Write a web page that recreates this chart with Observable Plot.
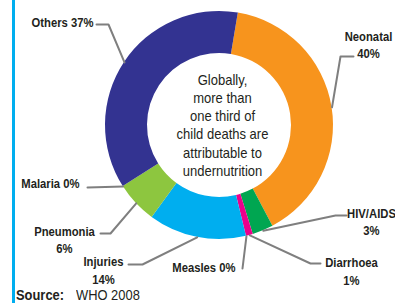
<!DOCTYPE html>
<html><head><meta charset="utf-8">
<script src="https://cdn.jsdelivr.net/npm/d3@7"></script>
<script src="https://cdn.jsdelivr.net/npm/@observablehq/plot@0.6"></script>
<style>
body{margin:0;background:#fff;}
#wrap{position:relative;width:395px;height:303px;overflow:hidden;}
#bar{position:absolute;left:12px;top:0;width:3px;height:303px;background:#00AEEF;}
#chart{position:absolute;left:0;top:0;}
.src{position:absolute;top:287px;white-space:nowrap;color:#231F20;transform:scaleX(0.86);transform-origin:0 0;
  font:15px/16px "Liberation Sans","Arimo",Roboto,sans-serif;}
#srcLabel{left:16px;font-weight:bold;}
#srcText{left:76px;}
</style></head>
<body><div id="wrap"><div id="chart"></div><div id="bar"></div>
<div class="src" id="srcLabel"></div><div class="src" id="srcText"></div></div>
<script>
// ---- data ----
const categories = ["Neonatal","HIV/AIDS","Diarrhoea","Measles","Injuries","Pneumonia","Malaria","Others"];
const shares = [40, 3, 1, 0, 14, 6, 0, 37];
const sliceColors = ["#F7941D","#00A651","#EC008C","#EC008C","#00AEEF","#8DC63F","#8DC63F","#333391"];
const centerNote = ["Globally,","more than","one third of","child deaths are","attributable to","undernutrition"];
const sourceLabel = "Source:";
const sourceText = "WHO 2008";

// ---- layout (pixel offsets from the donut centre) ----
const W = 395, H = 287;
const cx = 219, cy = 125, outerR = 114, innerR = 72;
const startDeg = 9.5;
const layout = {
  "Neonatal":  {elbow:[121,-69], end:[134,-69], text:[149,-81.5], anchor:"middle", wrap:true},
  "HIV/AIDS":  {elbow:[116,90],  end:[127,90],  text:[152,95.5],  anchor:"middle", wrap:true},
  "Diarrhoea": {elbow:[91,138],  end:[101,138], text:[132,145],   anchor:"middle", wrap:true},
  "Measles":   {end:[23,143],  text:[16,142],  anchor:"end", wrap:false},
  "Injuries":  {elbow:[-77,139], end:[-91,139], text:[-116,144],  anchor:"middle", wrap:true},
  "Pneumonia": {elbow:[-109,108],end:[-119,108],text:[-155,113.5],anchor:"middle", wrap:true},
  "Malaria":   {end:[-132,62], text:[-140,58], anchor:"end", wrap:false},
  "Others":    {elbow:[-111,-101],end:[-123,-101],text:[-126,-103],anchor:"end", wrap:false}
};

const rows = categories.map((c, i) => ({category: c, share: shares[i]}));
const a0 = startDeg * Math.PI / 180;
const arcs = d3.pie().sort(null).value(d => d.share).startAngle(a0).endAngle(a0 + 2 * Math.PI)(rows);

// leader lines: start at slice mid-angle on the outer rim
const leaders = [];
arcs.forEach(a => {
  const L = layout[a.data.category];
  const m = (a.startAngle + a.endAngle) / 2;
  const pts = [[outerR * Math.sin(m), -outerR * Math.cos(m)]];
  if (L.elbow) pts.push(L.elbow);
  pts.push(L.end);
  pts.forEach(p => leaders.push({category: a.data.category, x: p[0], y: p[1]}));
});

const labels = rows.map(r => {
  const L = layout[r.category];
  return {x: L.text[0], y: L.text[1], anchor: L.anchor,
          text: r.category + (L.wrap ? "\n" : " ") + r.share + "%"};
});

// donut slices drawn with the plot's x/y/color scales
function donut(index, scales) {
  const x0 = scales.x(0), y0 = scales.y(0);
  const R = scales.x(outerR) - x0, r = scales.x(innerR) - x0;
  const arc = d3.arc().innerRadius(r).outerRadius(R);
  const color = scales.color || (c => sliceColors[categories.indexOf(c)]);
  const g = d3.create("svg:g").attr("aria-label", "donut").attr("transform", `translate(${x0},${y0})`);
  g.selectAll("path").data(arcs).join("path")
    .attr("d", a => arc(a))
    .attr("fill", a => color(a.data.category));
  return g.node();
}

const font = '"Liberation Sans","Arimo",Roboto,sans-serif';
const ink = "#231F20";

const chart = Plot.plot({
  width: W, height: H,
  margin: 0,
  x: {domain: [-cx, W - cx], range: [0, W], axis: null},
  y: {domain: [-cy, H - cy], range: [0, H], axis: null},
  color: {type: "ordinal", domain: categories, range: sliceColors},
  style: {fontFamily: font, background: "transparent", overflow: "visible"},
  marks: [
    Plot.dot(arcs, {fill: d => d.data.category, r: 0}),
    donut,
    Plot.line(leaders, {x: "x", y: "y", z: "category", stroke: "#7f7f7f", strokeWidth: 2}),
    Plot.text(labels.filter(d => d.anchor === "middle"), {x: "x", y: "y", text: "text", textAnchor: "middle",
      fontSize: 13.5, fontWeight: "bold", lineHeight: 1.3, fill: ink}),
    Plot.text(labels.filter(d => d.anchor === "end"), {x: "x", y: "y", text: "text", textAnchor: "end",
      fontSize: 13.5, fontWeight: "bold", fill: ink}),
    Plot.text([centerNote.join("\n")], {x: () => 3, y: () => -1, text: d => d, textAnchor: "middle",
      fontSize: 14, lineHeight: 1.3, fill: ink})
  ]
});

// condense the typeface horizontally (the reference uses a condensed face)
function condense(group, k) {
  group.querySelectorAll("text").forEach(t => {
    const tr = t.getAttribute("transform") ||
      `translate(${t.getAttribute("x") || 0},${t.getAttribute("y") || 0})`;
    if (!t.getAttribute("transform")) { t.removeAttribute("x"); t.removeAttribute("y"); }
    t.setAttribute("transform", tr + ` scale(${k},1)`);
  });
}
const textGroups = chart.querySelectorAll('g[aria-label="text"]');
condense(textGroups[0], 0.835);
condense(textGroups[1], 0.835);
condense(textGroups[2], 0.93);

document.getElementById("chart").append(chart);
document.getElementById("srcLabel").textContent = sourceLabel;
document.getElementById("srcText").textContent = sourceText;
</script>
</body></html>
